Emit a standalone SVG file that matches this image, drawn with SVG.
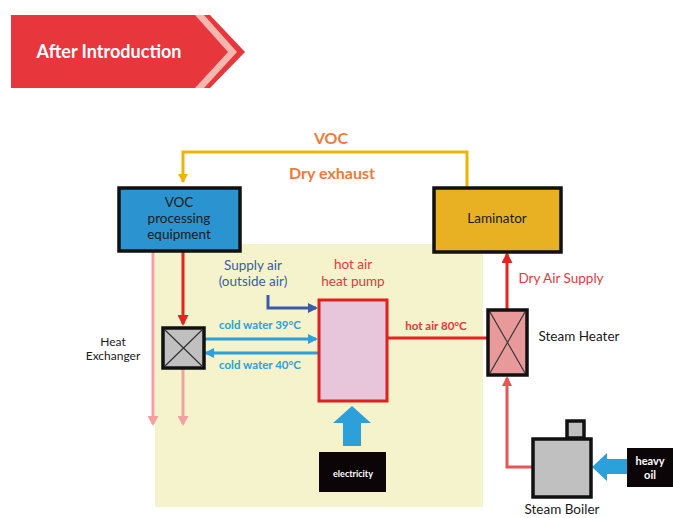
<svg xmlns="http://www.w3.org/2000/svg" width="673" height="518" viewBox="0 0 673 518">
  <defs>
    <style>
      text { font-family: Lato, "Noto Sans", "Liberation Sans", sans-serif; text-anchor: middle; dominant-baseline: central; }
      .box { stroke: #111; stroke-width: 3.5; }
      .lbl { font-size: 13.5px; fill: #1a1a1a; }
      .org { font-size: 16px; font-weight: bold; fill: #f07a3a; }
      .cw { font-size: 11.5px; font-weight: bold; fill: #2ba0db; }
      .red { fill: #e5383b; }
      .xline { stroke: #333; stroke-width: 1.2; }
    </style>
    <marker id="ahYellow" markerWidth="10" markerHeight="10" refX="8" refY="5" orient="auto" markerUnits="userSpaceOnUse">
      <path d="M0,0 L9,5 L0,10 Z" fill="#f0b400"/>
    </marker>
    <marker id="ahRed" markerWidth="11" markerHeight="11" refX="9" refY="5.5" orient="auto" markerUnits="userSpaceOnUse">
      <path d="M0,0 L11,5.5 L0,11 Z" fill="#e52421"/>
    </marker>
    <marker id="ahPink" markerWidth="10" markerHeight="11" refX="8" refY="5.5" orient="auto" markerUnits="userSpaceOnUse">
      <path d="M0,0 L10,5.5 L0,11 Z" fill="#f4a0a3"/>
    </marker>
    <marker id="ahLRed" markerWidth="10" markerHeight="10" refX="8" refY="5" orient="auto" markerUnits="userSpaceOnUse">
      <path d="M0,0 L10,5 L0,10 Z" fill="#e85555"/>
    </marker>
    <marker id="ahBlue" markerWidth="10" markerHeight="10" refX="8" refY="5" orient="auto" markerUnits="userSpaceOnUse">
      <path d="M0,0 L10,5 L0,10 Z" fill="#2ba0db"/>
    </marker>
    <marker id="ahDBlue" markerWidth="10" markerHeight="10" refX="8" refY="5" orient="auto" markerUnits="userSpaceOnUse">
      <path d="M0,0 L10,5 L0,10 Z" fill="#3a5ba8"/>
    </marker>
  </defs>

  <rect width="673" height="518" fill="#ffffff"/>

  <!-- title banner -->
  <g id="banner">
    <polygon points="11,15 210,15 245,52 210,88 11,88" fill="#e8363d"/>
    <polygon points="195,15 204,15 237,52 204,88 195,88 228,52" fill="#f4b8ae"/>
    <text x="109" y="51" font-size="18" font-weight="bold" fill="#ffffff">After Introduction</text>
  </g>

  <!-- heat pump system area -->
  <rect id="area" x="155" y="244" width="328" height="263" fill="#f5f3cc"/>

  <!-- connectors -->
  <g id="connectors" fill="none">
    <!-- VOC / dry exhaust loop -->
    <polyline points="467,187 467,152 183,152 183,182" stroke="#f0b400" stroke-width="3" marker-end="url(#ahYellow)"/>
    <!-- exhaust down to heat exchanger -->
    <line x1="183" y1="251" x2="183" y2="324" stroke="#e52421" stroke-width="3" marker-end="url(#ahRed)"/>
    <!-- exhaust outlets -->
    <line x1="153" y1="251" x2="153" y2="424" stroke="#f4a0a3" stroke-width="3" marker-end="url(#ahPink)"/>
    <line x1="183" y1="368" x2="183" y2="424" stroke="#f4a0a3" stroke-width="3" marker-end="url(#ahPink)"/>
    <!-- supply air -->
    <polyline points="268,295 268,308 316,308" stroke="#3a5ba8" stroke-width="3" marker-end="url(#ahDBlue)"/>
    <!-- cold water loop -->
    <line x1="205" y1="339" x2="316" y2="339" stroke="#2ba0db" stroke-width="3" marker-end="url(#ahBlue)"/>
    <line x1="318" y1="353" x2="206" y2="353" stroke="#2ba0db" stroke-width="3" marker-end="url(#ahBlue)"/>
    <!-- hot air to steam heater -->
    <line x1="388" y1="338" x2="487" y2="338" stroke="#e52421" stroke-width="3"/>
    <!-- dry air supply -->
    <line x1="507" y1="309" x2="507" y2="254" stroke="#e52421" stroke-width="3" marker-end="url(#ahRed)"/>
    <!-- steam -->
    <polyline points="532,467 507,467 507,378" stroke="#e85555" stroke-width="3" marker-end="url(#ahLRed)"/>
    <!-- electricity input -->
    <polygon points="352,406 371,423 361,423 361,446 343,446 343,423 333,423" fill="#2ba0db"/>
    <!-- heavy oil input -->
    <polygon points="592,467 607,453 607,459 627,459 627,474 607,474 607,481" fill="#2ba0db"/>
  </g>

  <!-- labels on connectors -->
  <g id="flow-labels">
    <text x="331" y="137" class="org">VOC</text>
    <text x="332" y="172" class="org">Dry exhaust</text>
    <text x="253" y="265" font-size="13.5" fill="#3a5ba8">Supply air</text>
    <text x="253" y="281" font-size="13.5" fill="#3a5ba8">(outside air)</text>
    <text x="260" y="324" class="cw">cold water 39°C</text>
    <text x="260" y="364" class="cw">cold water 40°C</text>
    <text x="436" y="325" font-size="11.5" font-weight="bold" class="red">hot air 80°C</text>
    <text x="561" y="278" font-size="13.5" class="red">Dry Air Supply</text>
  </g>

  <g id="voc-equipment">
    <rect x="119" y="188" width="121" height="63" fill="#2b93cf" class="box"/>
    <text x="179" y="202" class="lbl">VOC</text>
    <text x="179" y="218" class="lbl">processing</text>
    <text x="179" y="234" class="lbl">equipment</text>
  </g>

  <g id="laminator">
    <rect x="434" y="188" width="127" height="64" fill="#e8b124" class="box"/>
    <text x="497" y="218" class="lbl">Laminator</text>
  </g>

  <g id="heat-exchanger">
    <rect x="163" y="328" width="41" height="40" fill="#c0c0c0" class="box"/>
    <line x1="165" y1="330" x2="202" y2="366" class="xline"/>
    <line x1="202" y1="330" x2="165" y2="366" class="xline"/>
    <text x="113" y="341" font-size="12" fill="#1a1a1a">Heat</text>
    <text x="113" y="355" font-size="12" fill="#1a1a1a">Exchanger</text>
  </g>

  <g id="heat-pump">
    <rect x="319" y="300" width="68" height="101" fill="#e7c6dc" stroke="#e02020" stroke-width="3"/>
    <text x="353" y="264" font-size="13.5" class="red">hot air</text>
    <text x="353" y="281" font-size="13.5" class="red">heat pump</text>
  </g>

  <g id="electricity">
    <rect x="319" y="452" width="67" height="40" fill="#0c0508"/>
    <text x="353" y="473" font-size="9" font-weight="bold" fill="#ffffff">electricity</text>
  </g>

  <g id="steam-heater">
    <rect x="488" y="310" width="39" height="65" fill="#e89a9b" class="box"/>
    <line x1="490" y1="312" x2="525" y2="373" class="xline"/>
    <line x1="525" y1="312" x2="490" y2="373" class="xline"/>
    <text x="579" y="336" class="lbl">Steam Heater</text>
  </g>

  <g id="steam-boiler">
    <rect x="567" y="421" width="17" height="17" fill="#c0c0c0" class="box"/>
    <rect x="533" y="439" width="58" height="58" fill="#c0c0c0" class="box"/>
    <text x="562" y="509" class="lbl">Steam Boiler</text>
  </g>

  <g id="heavy-oil">
    <rect x="627" y="448" width="50" height="39" fill="#0c0508"/>
    <text x="650" y="460" font-size="11" font-weight="bold" fill="#ffffff">heavy</text>
    <text x="650" y="474" font-size="11" font-weight="bold" fill="#ffffff">oil</text>
  </g>
</svg>
